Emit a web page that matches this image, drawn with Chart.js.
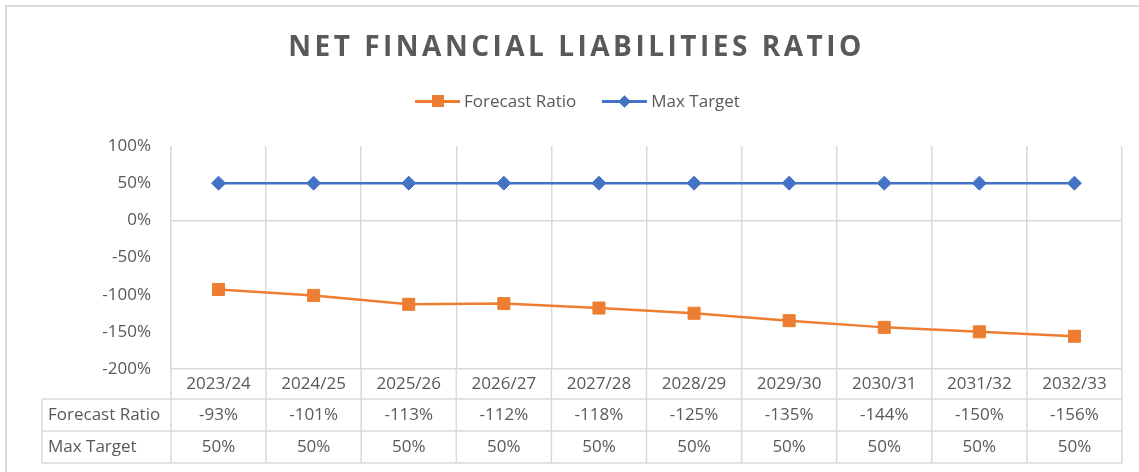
<!DOCTYPE html>
<html>
<head>
<meta charset="utf-8">
<script src="https://cdn.jsdelivr.net/npm/chart.js@4.4.1/dist/chart.umd.min.js"></script>
<style>
  html, body { margin: 0; padding: 0; background: #fff; }
  #wrap { position: relative; width: 1139px; height: 472px; overflow: hidden; font-family: "Open Sans", sans-serif; color: #595959; }
  #chart { position: absolute; left: 0; top: 0; }
  .frame { position: absolute; left: 5px; top: 5px; width: 1200px; height: 600px; border-top: 2px solid #d9d9d9; border-left: 2px solid #d9d9d9; }
  .title { position: absolute; left: 0; top: 31px; width: 1153px; text-align: center; font-weight: 700; font-size: 28px; line-height: 28px; letter-spacing: 3.5px; }
  #legend { position: absolute; left: 0; top: 91px; width: 1155px; text-align: center; font-size: 17px; line-height: 20px; }
  .legend-item { display: inline-flex; align-items: center; margin: 0 13px; }
  .legend-key { position: relative; display: inline-block; width: 45px; height: 14px; margin-right: 4px; }
  .legend-key .line { position: absolute; left: 0; right: 0; top: 5.5px; height: 3px; }
  .legend-key .mark { position: absolute; }
</style>
</head>
<body>
<div id="wrap">
  <div class="frame"></div>
  <canvas id="chart" width="1139" height="472"></canvas>
  <div class="title">NET FINANCIAL LIABILITIES RATIO</div>
  <div id="legend"></div>
</div>
<script>
const years = ['2023/24', '2024/25', '2025/26', '2026/27', '2027/28', '2028/29', '2029/30', '2030/31', '2031/32', '2032/33'];
const forecastRatio = [-93, -101, -113, -112, -118, -125, -135, -144, -150, -156];
const maxTarget = [50, 50, 50, 50, 50, 50, 50, 50, 50, 50];
const yTicks = [-200, -150, -100, -50, 0, 50, 100];

const textColor = '#595959';
const gridColor = '#d9d9d9';
const font = { family: '"Open Sans", sans-serif', size: 17 };

// legend as html, built from the datasets
const htmlLegend = {
  id: 'htmlLegend',
  afterUpdate(chart, args, opts) {
    const box = document.getElementById(opts.containerID);
    box.innerHTML = '';
    chart.data.datasets.forEach((ds) => {
      const item = document.createElement('span');
      item.className = 'legend-item';
      const key = document.createElement('span');
      key.className = 'legend-key';
      const line = document.createElement('span');
      line.className = 'line';
      line.style.background = ds.borderColor;
      const mark = document.createElement('span');
      mark.className = 'mark';
      mark.style.background = ds.borderColor;
      if (ds.pointStyle === 'rectRot') {
        Object.assign(mark.style, { width: '9px', height: '9px', left: '18px', top: '2.5px', transform: 'rotate(45deg)' });
      } else {
        Object.assign(mark.style, { width: '12px', height: '12px', left: '16.5px', top: '1px' });
      }
      key.append(line, mark);
      const label = document.createElement('span');
      label.textContent = ds.label;
      item.append(key, label);
      box.append(item);
    });
  },
};

// excel style data table under the category axis
const dataTable = {
  id: 'dataTable',
  afterDraw(chart, args, opts) {
    const { ctx, chartArea: { left, right, bottom }, scales: { x } } = chart;
    const rows = chart.data.datasets;
    const rowH = opts.rowHeight;
    const top = x.bottom;
    const end = top + rows.length * rowH;
    const colW = (right - left) / years.length;

    ctx.save();
    ctx.strokeStyle = gridColor;
    ctx.lineWidth = 1.5;
    ctx.beginPath();
    for (let r = 0; r <= rows.length; r++) {
      ctx.moveTo(opts.labelLeft, top + r * rowH);
      ctx.lineTo(right, top + r * rowH);
    }
    ctx.moveTo(opts.labelLeft, top);
    ctx.lineTo(opts.labelLeft, end);
    for (let i = 0; i <= years.length; i++) {
      ctx.moveTo(left + i * colW, bottom);
      ctx.lineTo(left + i * colW, end);
    }
    ctx.stroke();

    ctx.fillStyle = textColor;
    ctx.font = `${font.size}px ${font.family}`;
    ctx.textBaseline = 'middle';
    rows.forEach((ds, r) => {
      const cy = top + r * rowH + rowH / 2;
      ctx.textAlign = 'left';
      ctx.fillText(ds.label, opts.labelLeft + 6, cy);
      ctx.textAlign = 'center';
      ds.data.forEach((v, i) => {
        ctx.fillText(`${v}%`, x.getPixelForValue(i), cy);
      });
    });
    ctx.restore();
  },
};

new Chart(document.getElementById('chart'), {
  type: 'line',
  data: {
    labels: years,
    datasets: [
      {
        label: 'Forecast Ratio',
        data: forecastRatio,
        borderColor: '#ED7D31',
        backgroundColor: '#ED7D31',
        borderWidth: 2.5,
        pointStyle: 'rect',
        pointRadius: 8.5,
        pointBorderWidth: 1,
        tension: 0,
      },
      {
        label: 'Max Target',
        data: maxTarget,
        borderColor: '#4472C4',
        backgroundColor: '#4472C4',
        borderWidth: 2.5,
        pointStyle: 'rectRot',
        pointRadius: 7,
        pointBorderWidth: 1,
        tension: 0,
      },
    ],
  },
  options: {
    responsive: false,
    animation: false,
    layout: { padding: { left: 0, right: 17, top: 146, bottom: 73 } },
    scales: {
      x: {
        offset: true,
        grid: { offset: true, color: gridColor, lineWidth: 1.5, drawTicks: false },
        border: { color: gridColor, width: 1.5 },
        ticks: { color: textColor, font, padding: 5, maxRotation: 0 },
        afterFit(scale) { scale.height = 30; },
      },
      y: {
        min: yTicks[0],
        max: yTicks[yTicks.length - 1],
        grid: {
          drawTicks: false,
          lineWidth: 1.5,
          color: (c) => (c.tick && c.tick.value === 0 ? gridColor : 'rgba(0,0,0,0)'),
        },
        border: { display: false },
        ticks: {
          stepSize: yTicks[1] - yTicks[0],
          color: textColor,
          font,
          padding: 20,
          callback: (v) => `${v}%`,
        },
        afterFit(scale) { scale.width = 171; },
      },
    },
    plugins: {
      legend: { display: false },
      tooltip: { enabled: false },
      htmlLegend: { containerID: 'legend' },
      dataTable: { rowHeight: 32, labelLeft: 42 },
    },
  },
  plugins: [htmlLegend, dataTable],
});
</script>
</body>
</html>
